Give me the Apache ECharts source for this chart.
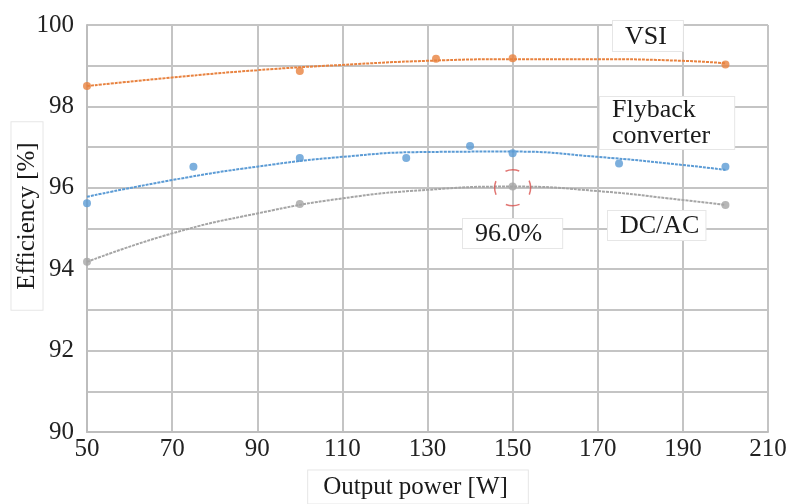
<!DOCTYPE html>
<html>
<head>
<meta charset="utf-8">
<script src="https://cdn.jsdelivr.net/npm/echarts@6/dist/echarts.min.js"></script>
<style>html,body{margin:0;padding:0;background:#fff}#c{width:794px;height:504px}</style>
</head>
<body>
<div id="c"></div>
<script>
// Measured points
const vsiX = [50, 100, 132, 150, 200];
const vsiY = [98.5, 98.87, 99.17, 99.18, 99.03];
const flyX = [50, 75, 100, 125, 140, 150, 175, 200];
const flyY = [95.62, 96.52, 96.73, 96.73, 97.03, 96.85, 96.6, 96.52];
const dcX = [50, 100, 150, 200];
const dcY = [94.18, 95.6, 96.03, 95.58];
// Trend lines
const trendX = [50, 70, 90, 110, 130, 150, 170, 190, 200];
const vsiTrend = [98.5, 98.71, 98.89, 99.02, 99.12, 99.16, 99.16, 99.12, 99.06];
const flyTrend = [95.78, 96.19, 96.52, 96.76, 96.88, 96.89, 96.76, 96.56, 96.44];
const dcTrend = [94.18, 94.88, 95.37, 95.74, 95.95, 96.03, 95.92, 95.7, 95.58];
// Highlighted point
const peakX = [150];
const peakY = [96.0];
const peakLabel = '96.0%';
const seriesNames = ['VSI', 'Flyback\nconverter', 'DC/AC'];
const xTitle = 'Output power [W]';
const yTitle = 'Efficiency [%]';

const zip = (xs, ys) => xs.map((x, i) => [x, ys[i]]);
const colors = ['#E8823F', '#5B9BD5', '#A5A5A5'];
const FONT = '"Liberation Serif", "DejaVu Serif", serif';

const pts = [[vsiX, vsiY], [flyX, flyY], [dcX, dcY]];
const trends = [vsiTrend, flyTrend, dcTrend];
const series = [];
trends.forEach((t, i) => {
  series.push({
    type: 'line', data: zip(trendX, t), smooth: true, showSymbol: false, silent: true,
    lineStyle: { color: colors[i], width: 2, type: [3, 1] }, z: 2
  });
});
pts.forEach((p, i) => {
  series.push({
    type: 'scatter', data: zip(p[0], p[1]), symbol: 'circle', symbolSize: 8,
    itemStyle: { color: colors[i] }, z: 3
  });
});
series.push({
  type: 'scatter', data: zip(peakX, peakY), symbol: 'circle', symbolSize: 36, z: 4,
  itemStyle: { color: 'rgba(0,0,0,0)', borderColor: '#D9534F', borderWidth: 1.5, borderType: [14, 14], borderDashOffset: 7 }
});

const boxStyle = (text, size, pad, lh) => ({
  text: text, font: size + 'px ' + FONT, fill: '#1a1a1a',
  backgroundColor: '#fff', borderColor: '#e6e6e6', borderWidth: 1,
  padding: pad, lineHeight: lh
});
const box = (text, x, y, pad, lh) => ({
  type: 'text', left: x, top: y, z: 10, style: boxStyle(text, 26, pad, lh || 28)
});

const chart = echarts.init(document.getElementById('c'), null, { renderer: 'canvas' });
chart.setOption({
  animation: false,
  backgroundColor: '#fff',
  grid: { left: 87, right: 26, top: 25, bottom: 72, outerBoundsMode: 'none', containLabel: false },
  xAxis: {
    type: 'value', min: 50, max: 210, interval: 20,
    axisLine: { lineStyle: { color: '#BDBDBD', width: 2 } },
    axisTick: { show: false },
    axisLabel: { fontFamily: FONT, fontSize: 25, color: '#222', margin: 5 },
    splitLine: { show: true, lineStyle: { color: '#C4C4C4', width: 2 } }
  },
  yAxis: {
    type: 'value', min: 90, max: 100, interval: 1,
    axisLine: { show: true, lineStyle: { color: '#BDBDBD', width: 2 } },
    axisTick: { show: false },
    axisLabel: { fontFamily: FONT, fontSize: 25, color: '#222', margin: 13,
      formatter: v => (Math.round(v) % 2 === 0 ? String(v) : '') },
    splitLine: { show: true, lineStyle: { color: '#C4C4C4', width: 2 } }
  },
  graphic: [
    box(seriesNames[0], 612, 20, [2, 16, 0, 12]),
    box(seriesNames[1], 599, 96, [0, 24, 0, 12], 26),
    box(seriesNames[2], 607, 210, [1, 6, 0, 12]),
    box(peakLabel, 462, 218, [1, 20, 0, 12]),
    { type: 'text', x: 418, y: 487, z: 10,
      style: Object.assign(boxStyle(xTitle, 25, [3, 20, 2, 15], 28), { align: 'center', verticalAlign: 'middle' }) },
    { type: 'text', x: 27, y: 216, rotation: Math.PI / 2, z: 10,
      style: Object.assign(boxStyle(yTitle, 25, [2, 20, 2, 20], 27), { align: 'center', verticalAlign: 'middle' }) }
  ],
  series: series
});
</script>
</body>
</html>
